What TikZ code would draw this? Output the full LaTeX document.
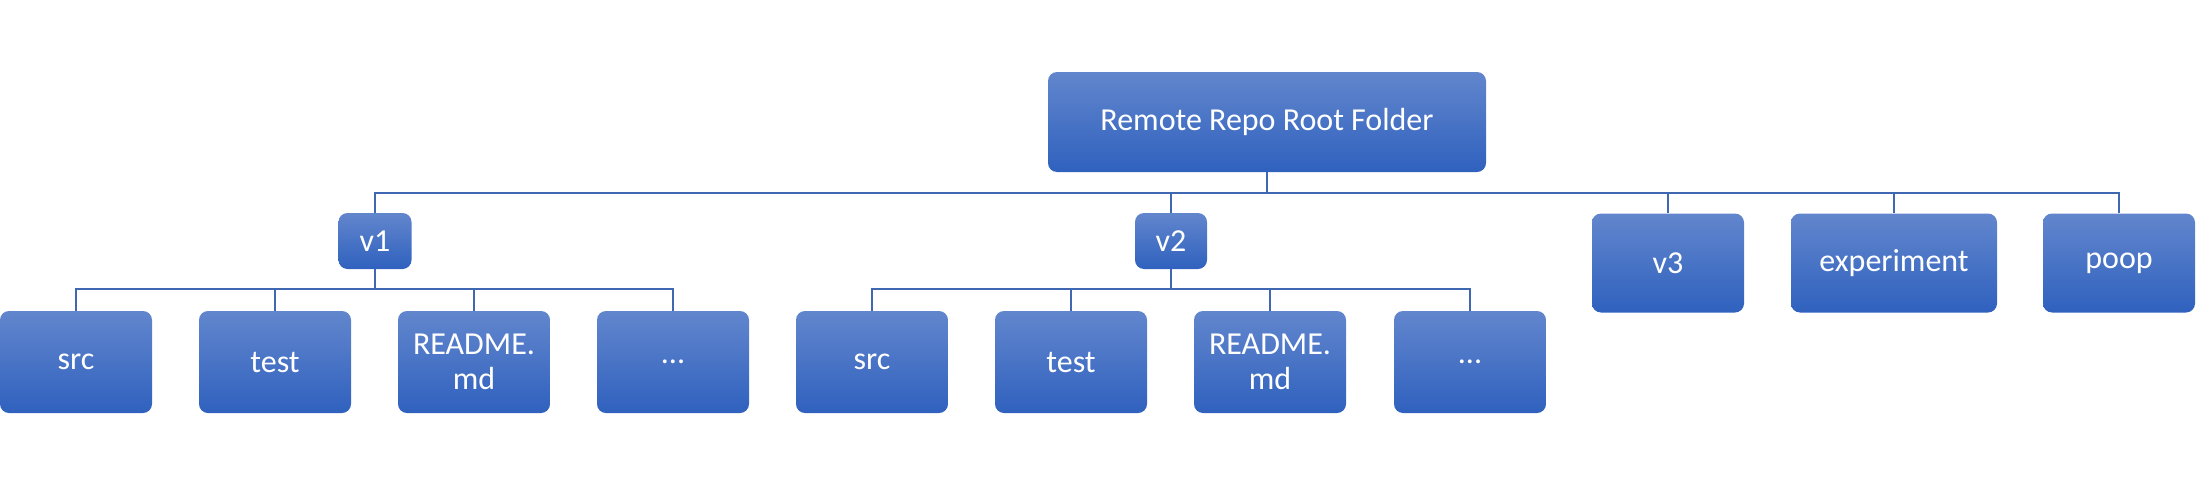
\documentclass[tikz,border=0pt]{standalone}
\usepackage{fontspec}
\setmainfont{Carlito}
\definecolor{boxtop}{RGB}{98,134,205}
\definecolor{boxbot}{RGB}{47,97,190}
\definecolor{linkc}{RGB}{64,104,178}
\tikzset{
  fbox/.style={rounded corners=9pt, top color=boxtop, bottom color=boxbot, draw=none,
    text=white, inner sep=0pt, align=center,
    font=\fontsize{32}{35}\selectfont},
  lvltwo/.style={fbox, minimum width=152pt, minimum height=102pt},
  link/.style={draw=linkc, line width=2.2pt}
}
\begin{document}
\begin{tikzpicture}[x=1pt,y=-1pt]
\useasboundingbox (0,0) rectangle (2200,490);
\node[fbox, minimum width=438pt, minimum height=100pt] (root) at (1267,122) {Remote Repo Root Folder};
\node[fbox, minimum width=73pt, minimum height=56pt] (v1) at (375,241) {v1};
\node[fbox, minimum width=72pt, minimum height=56pt] (v2) at (1171,241) {v2};
\node[fbox, minimum width=152pt, minimum height=99pt] (v3) at (1668,263) {v3};
\node[fbox, minimum width=206pt, minimum height=99pt] (exp) at (1894,263) {experiment};
\node[fbox, minimum width=152pt, minimum height=99pt] (poop) at (2119,263) {poop};
\node[lvltwo] (a1) at (76,362) {src};
\node[lvltwo] (a2) at (275,362) {test};
\node[lvltwo] (a3) at (474,362) {README.\\md};
\node[lvltwo] (a4) at (673,362) {...};
\node[lvltwo] (b1) at (872,362) {src};
\node[lvltwo] (b2) at (1071,362) {test};
\node[lvltwo] (b3) at (1270,362) {README.\\md};
\node[lvltwo] (b4) at (1470,362) {...};
\coordinate (bus1) at (0,193);
\coordinate (bus2) at (0,289);
\foreach \c in {v1,v2,v3,exp,poop}
  \draw[link] (root.south) -- (root.south |- bus1) -| (\c.north);
\foreach \c in {a1,a2,a3,a4}
  \draw[link] (v1.south) -- (v1.south |- bus2) -| (\c.north);
\foreach \c in {b1,b2,b3,b4}
  \draw[link] (v2.south) -- (v2.south |- bus2) -| (\c.north);
\end{tikzpicture}
\end{document}
